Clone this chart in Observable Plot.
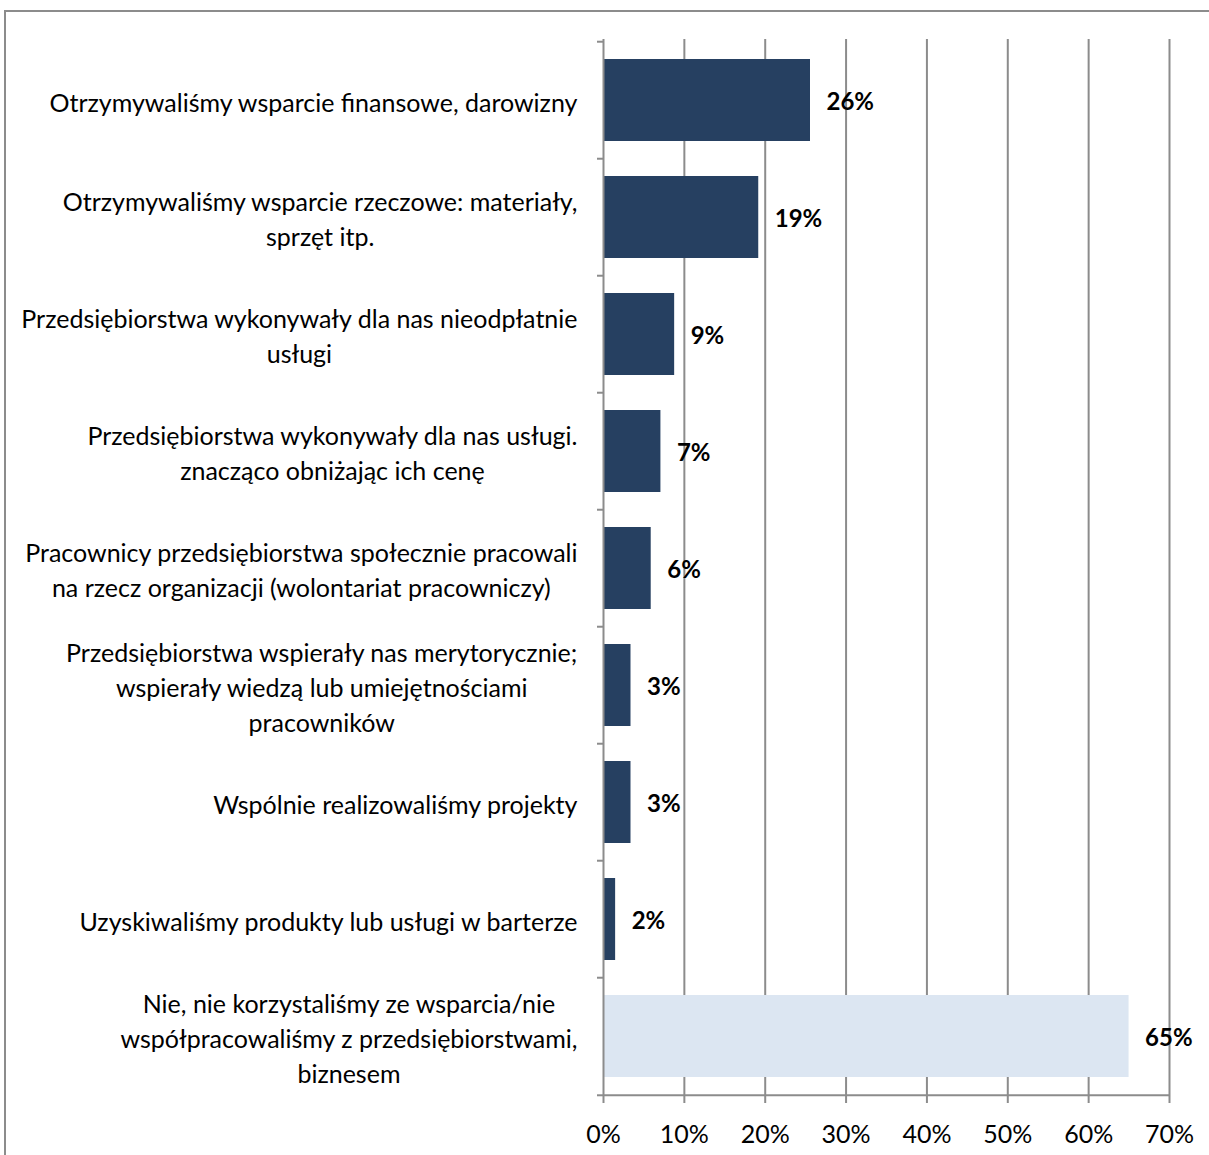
<!DOCTYPE html>
<html>
<head>
<meta charset="utf-8">
<script src="https://cdn.jsdelivr.net/npm/d3@7"></script>
<script src="https://cdn.jsdelivr.net/npm/@observablehq/plot@0.6"></script>
<style>
  html, body { margin: 0; padding: 0; background: #fff; }
  #wrap { position: relative; width: 1209px; height: 1155px; overflow: hidden; }
  #frame { position: absolute; left: 4px; top: 10px; width: 1300px; height: 1300px;
           border-left: 2px solid #8c8c8c; border-top: 2px solid #8c8c8c; pointer-events: none; }
  #chart { position: absolute; left: 0; top: 0; }
</style>
</head>
<body>
<div id="wrap"><div id="chart"></div><div id="frame"></div></div>
<script>
const categories = [
  "Otrzymywaliśmy wsparcie finansowe, darowizny",
  "Otrzymywaliśmy wsparcie rzeczowe: materiały,\nsprzęt itp.",
  "Przedsiębiorstwa wykonywały dla nas nieodpłatnie\nusługi",
  "Przedsiębiorstwa wykonywały dla nas usługi.\nznacząco obniżając ich cenę",
  "Pracownicy przedsiębiorstwa społecznie pracowali\nna rzecz organizacji (wolontariat pracowniczy)",
  "Przedsiębiorstwa wspierały nas merytorycznie;\nwspierały wiedzą lub umiejętnościami\npracowników",
  "Wspólnie realizowaliśmy projekty",
  "Uzyskiwaliśmy produkty lub usługi w barterze",
  "Nie, nie korzystaliśmy ze wsparcia/nie\nwspółpracowaliśmy z przedsiębiorstwami,\nbiznesem"
];
const values = [25.6, 19.2, 8.8, 7.1, 5.9, 3.4, 3.4, 1.5, 65.0];
const valueLabels = ["26%", "19%", "9%", "7%", "6%", "3%", "3%", "2%", "65%"];
const groups = ["tak", "tak", "tak", "tak", "tak", "tak", "tak", "tak", "nie"];
const xTicks = [0, 10, 20, 30, 40, 50, 60, 70];

const data = categories.map((c, i) => ({cat: c, value: values[i], label: valueLabels[i], group: groups[i]}));

const W = 1209, H = 1155;
const mL = 603, mR = 40, mT = 39, mB = 58;
const bw = (H - mT - mB) / categories.length;
const grid = "#8c8c8c";
const last = categories[categories.length - 1];

const chart = Plot.plot({
  width: W,
  height: H,
  marginLeft: mL,
  marginRight: mR,
  marginTop: mT,
  marginBottom: mB,
  style: {fontFamily: "Lato, 'Open Sans', sans-serif", fontSize: "24px", color: "#000", background: "transparent", overflow: "visible"},
  x: {domain: [0, 70], axis: null},
  y: {domain: categories, paddingInner: 0.3, paddingOuter: 0.15, axis: null},
  color: {domain: ["tak", "nie"], range: ["#264061", "#dce6f2"]},
  marks: [
    Plot.gridX(xTicks.slice(1), {stroke: grid, strokeOpacity: 1, strokeWidth: 2}),
    Plot.barX(data, {y: "cat", x: "value", fill: "group"}),
    Plot.ruleX([0], {stroke: grid, strokeWidth: 2}),
    Plot.axisY({tickSize: 6, tickFormat: () => "", label: null, dy: -bw / 2, stroke: grid, strokeWidth: 2}),
    Plot.axisY([last], {tickSize: 6, tickFormat: () => "", label: null, dy: bw / 2, stroke: grid, strokeWidth: 2}),
    Plot.ruleY([last], {y: d => d, dy: bw / 2, x1: 0, x2: 70, stroke: grid, strokeWidth: 2}),
    Plot.axisX(xTicks, {tickSize: 6, tickPadding: 22, label: null, tickFormat: d => d + "%", stroke: grid, strokeWidth: 2, fill: "#000", fontSize: 25}),
    Plot.text(data, {y: "cat", x: 0, text: "cat", textAnchor: "end", dx: -26, lineHeight: 1.4, fontSize: 25, fill: "#000"}),
    Plot.text(data, {y: "cat", x: "value", text: "label", textAnchor: "start", dx: 16, dy: 2, fontWeight: "bold", fontSize: 24, fill: "#000"})
  ]
});

document.getElementById("chart").appendChild(chart);

// Center the lines of each multi-line category label within its right-aligned block
const flat = new Set(categories.map(c => c.replace(/\n/g, "")));
chart.querySelectorAll("text").forEach(t => {
  if (!flat.has(t.textContent)) return;
  const w = t.getBBox().width;
  t.setAttribute("text-anchor", "middle");
  t.style.textAnchor = "middle";
  const spans = t.querySelectorAll("tspan");
  if (spans.length) spans.forEach(s => s.setAttribute("x", -w / 2));
  else t.setAttribute("x", -w / 2);
});
</script>
</body>
</html>
